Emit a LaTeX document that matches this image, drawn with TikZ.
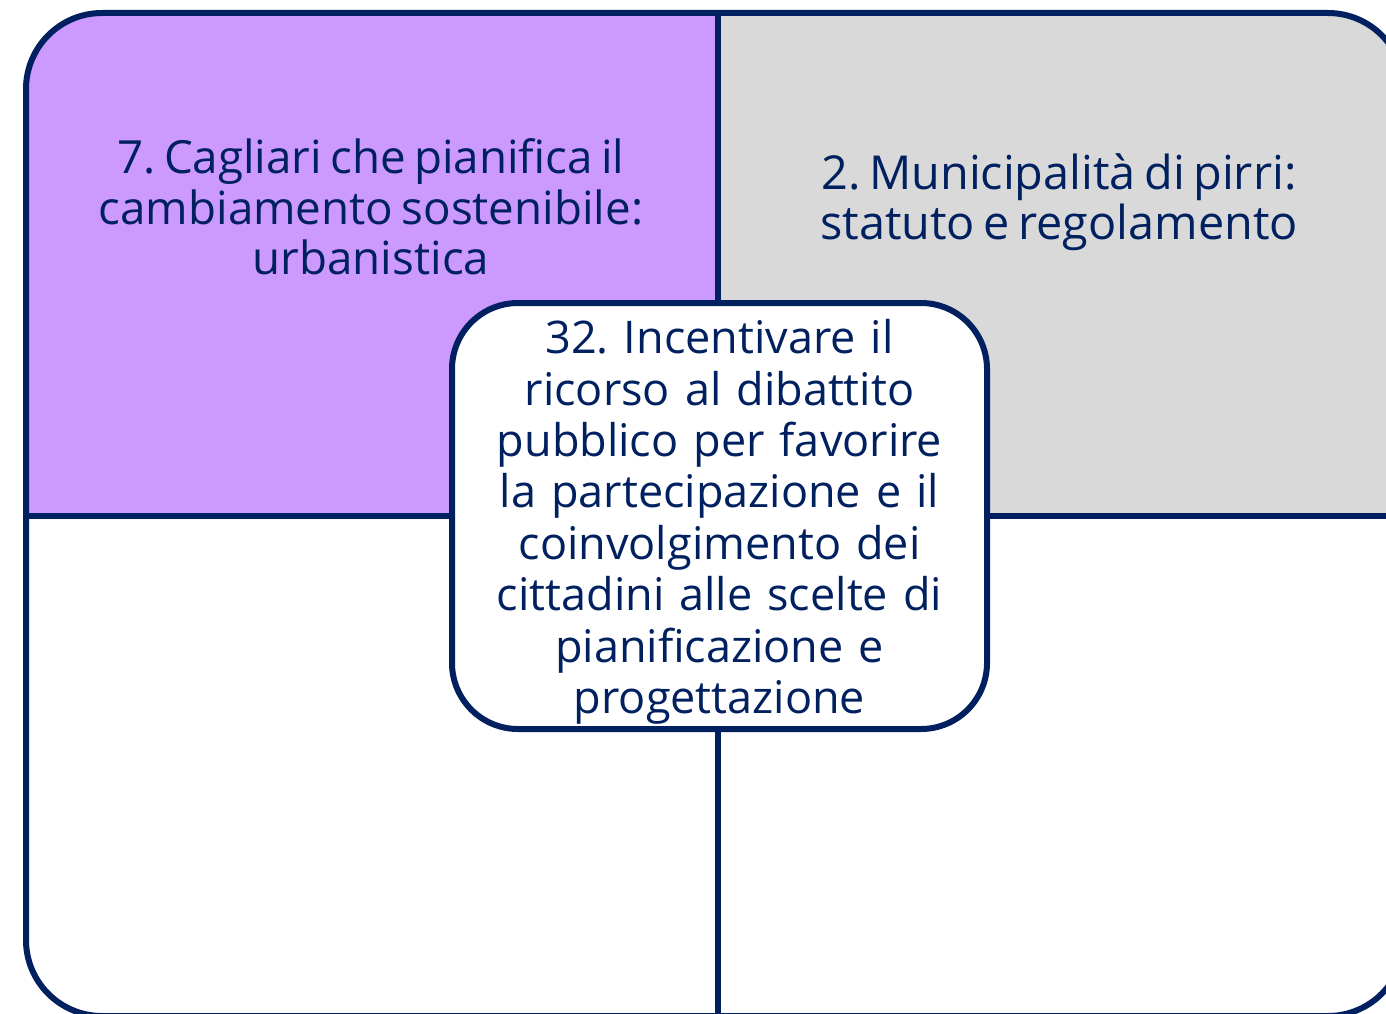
\documentclass[tikz,border=0pt]{standalone}
\usepackage{fontspec}
\setmainfont[WordSpace={0.7,0.5,0.5}]{Open Sans}
\usepackage{tikz}
\usetikzlibrary{positioning}

\definecolor{navy}{HTML}{002060}
\definecolor{lilla}{HTML}{CC99FF}
\definecolor{grigio}{HTML}{D9D9D9}
\frenchspacing

\begin{document}
\begin{tikzpicture}[x=1pt, y=-1pt,
        frame/.style={draw=navy, line width=6pt},
        quadtext/.style={text=navy, align=center, font=\fontsize{45.7}{50.5}\selectfont, inner sep=0pt},
        centerbox/.style={frame, fill=white, rounded corners=66pt, text=navy, align=center,
              font=\fontsize{45}{51.4}\selectfont, minimum width=535pt, minimum height=426pt,
              text width=520pt, inner sep=0pt}]
        \useasboundingbox (0,0) rectangle (1386,1014);
        % quadrant fills
        \begin{scope}
          \clip[rounded corners=76pt] (26,13) rectangle (1404,1016);
          \fill[lilla] (26,13) rectangle (718,516);
          \fill[grigio] (718,13) rectangle (1404,516);
          \fill[white] (26,516) rectangle (1404,1016);
        \end{scope}
        \draw[frame, rounded corners=76pt] (26,13) rectangle (1404,1016);
        \coordinate (top) at (718,13);
        \coordinate (bottom) at (718,1016);
        \coordinate (left) at (26,516);
        \coordinate (right) at (1404,516);
        \draw[frame] (top) -- (bottom);
        \draw[frame] (left) -- (right);
        % texts
        \node[quadtext] (cagliari) at (371,207) {%
          7. Cagliari che pianifica il\\
          cambiamento sostenibile:\\
          urbanistica};
        \node[quadtext, font=\fontsize{46.8}{49.5}\selectfont] (pirri) at (1059,202) {%
          2. Municipalità di pirri:\\
          statuto e regolamento};
        \node[centerbox] (dibattito) at (719.5,516) {%
          \raisebox{-6pt}[\height][\depth]{\parbox{520pt}{\centering
          32. Incentivare il\\
          ricorso al dibattito\\
          pubblico per favorire\\
          la partecipazione e il\\
          coinvolgimento dei\\
          cittadini alle scelte di\\
          pianificazione e\\
          progettazione}}};
      \end{tikzpicture}
\end{document}
